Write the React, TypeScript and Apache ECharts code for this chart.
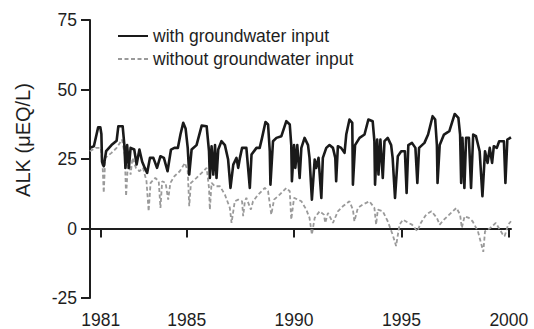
import React, { useEffect, useRef } from "react";
import * as echarts from "echarts";

// decimal years and ALK values (µEQ/L)
const withYears = [
  1980.49, 1980.68, 1980.88, 1980.98, 1981.03, 1981.06, 1981.14, 1981.25, 1981.5, 1981.74,
  1981.82, 1982.02, 1982.1, 1982.15, 1982.23, 1982.31, 1982.39, 1982.56, 1982.67, 1982.8,
  1982.93, 1983.05, 1983.16, 1983.29, 1983.45, 1983.62, 1983.78, 1983.94, 1984.11, 1984.27,
  1984.43, 1984.59, 1984.71, 1984.84, 1984.95, 1985.05, 1985.12, 1985.23, 1985.46, 1985.7,
  1985.93, 1986.04, 1986.08, 1986.16, 1986.24, 1986.32, 1986.39, 1986.47, 1986.62, 1986.78,
  1986.93, 1987.04, 1987.17, 1987.32, 1987.4, 1987.48, 1987.58, 1987.78, 1987.94, 1988.02,
  1988.25, 1988.4, 1988.51, 1988.67, 1988.79, 1988.87, 1988.9, 1989.02, 1989.18, 1989.41,
  1989.64, 1989.8, 1989.87, 1989.9, 1990.0, 1990.06, 1990.15, 1990.26, 1990.34, 1990.49,
  1990.65, 1990.72, 1990.83, 1990.96, 1991.03, 1991.14, 1991.27, 1991.34, 1991.5, 1991.65,
  1991.81, 1991.92, 1991.96, 1992.04, 1992.19, 1992.35, 1992.43, 1992.58, 1992.71, 1992.74,
  1992.84, 1993.05, 1993.28, 1993.46, 1993.66, 1993.74, 1993.77, 1993.87, 1993.93, 1994.02,
  1994.13, 1994.21, 1994.36, 1994.52, 1994.59, 1994.7, 1994.83, 1994.99, 1995.16, 1995.24,
  1995.32, 1995.49, 1995.65, 1995.74, 1995.82, 1996.07, 1996.24, 1996.45, 1996.57, 1996.65,
  1996.68, 1996.78, 1996.98, 1997.23, 1997.48, 1997.65, 1997.73, 1997.78, 1997.84, 1997.93,
  1998.01, 1998.14, 1998.24, 1998.34, 1998.47, 1998.64, 1998.77, 1998.89, 1999.01, 1999.11,
  1999.22, 1999.3, 1999.44, 1999.55, 1999.77, 1999.84, 1999.93, 2000.1,
];
const withValues = [
  29, 29.6, 36.4, 36.4, 34, 24, 22.4, 27.8, 30, 31.6,
  36.8, 36.8, 30, 21.8, 30, 21.8, 29, 28.4, 23, 28.4,
  24, 21.8, 20, 25.4, 25.4, 21.8, 26, 25.4, 20.6, 28.4,
  29, 29, 33.8, 38, 36, 29, 19.4, 28.4, 30, 37,
  36.8, 27.8, 18.2, 29.6, 19.4, 30, 18.2, 28.4, 31.4, 30,
  24.8, 14.6, 23, 25.4, 21.8, 25.4, 29, 29, 14.6, 26.6,
  29, 29, 32.6, 38.3, 37.4, 27.8, 15.8, 31.4, 32.6, 33.2,
  38.6, 37.4, 30, 17, 30, 21.8, 30, 18.2, 29, 32.6,
  30, 25.4, 10.4, 24.8, 21.8, 25.4, 11, 25.4, 29, 30,
  29, 25.4, 17, 29.6, 29, 27.2, 33.8, 39.2, 38, 15.8,
  30, 32.6, 33.8, 39.2, 38.6, 31.4, 15.8, 32, 19.4, 32,
  18.2, 31.4, 32.6, 30, 25.4, 11, 26, 27.8, 27.8, 12.8,
  30, 30.8, 29, 16.4, 29, 30.8, 33.8, 40.4, 39.2, 30,
  16.4, 30, 33.8, 35, 41.2, 39.8, 33.8, 16.4, 32.6, 14.6,
  32.6, 32.6, 14.6, 33.8, 33.2, 27.8, 11.6, 27.8, 23.6, 29,
  23.6, 29.6, 29, 31.4, 31.4, 16.4, 32, 32.8,
];

const withoutYears = [
  1980.49, 1980.77, 1981.01, 1981.09, 1981.14, 1981.21, 1981.5, 1981.74, 1981.99, 1982.12,
  1982.18, 1982.28, 1982.39, 1982.48, 1982.64, 1982.8, 1982.97, 1983.13, 1983.23, 1983.32,
  1983.54, 1983.7, 1983.78, 1983.86, 1984.02, 1984.14, 1984.24, 1984.43, 1984.68, 1984.92,
  1985.05, 1985.12, 1985.2, 1985.46, 1985.7, 1985.93, 1986.04, 1986.08, 1986.16, 1986.32,
  1986.55, 1986.78, 1987.01, 1987.09, 1987.24, 1987.4, 1987.58, 1987.63, 1987.71, 1987.78,
  1987.99, 1988.09, 1988.33, 1988.64, 1988.79, 1988.94, 1989.07, 1989.33, 1989.64, 1989.8,
  1989.87, 1990.0, 1990.18, 1990.34, 1990.57, 1990.72, 1990.83, 1990.96, 1991.19, 1991.39,
  1991.45, 1991.58, 1991.81, 1992.04, 1992.27, 1992.58, 1992.74, 1992.81, 1992.97, 1993.2,
  1993.51, 1993.74, 1993.82, 1993.9, 1994.13, 1994.36, 1994.59, 1994.75, 1994.91, 1995.07,
  1995.32, 1995.49, 1995.74, 1995.9, 1996.15, 1996.4, 1996.65, 1996.78, 1996.98, 1997.31,
  1997.56, 1997.73, 1997.81, 1997.94, 1998.14, 1998.31, 1998.56, 1998.72, 1998.81, 1998.89,
  1999.14, 1999.39, 1999.72, 1999.8, 1999.97, 2000.1,
];
const withoutValues = [
  27.8, 29, 29, 21.8, 12.8, 25.4, 27.2, 29, 32, 26.6,
  11.6, 25.4, 19.4, 25.4, 21.8, 20.6, 21.8, 17, 6.2, 16.4,
  18.2, 17, 7.4, 17, 16.4, 10.4, 16.4, 18.8, 20.6, 23.6,
  20.6, 8, 16.4, 18.2, 20, 21.8, 14.6, 6.8, 16.4, 15.2,
  15.2, 12.2, 7.4, 2, 9.8, 10.4, 9.8, 4.4, 9.8, 11,
  6.8, 9.8, 12.2, 14.6, 13.4, 5, 10.4, 12.2, 14.6, 13.4,
  3.2, 11, 10.4, 9.8, 6.8, 3.8, -2.2, 3.8, 6.2, 5,
  2, 5.6, 2, 6.2, 8, 9.8, 6.8, 2.6, 7.4, 8.6,
  9.8, 7.4, 1.4, 6.8, 6.2, 2.6, -2.2, -6.3, 1.4, 3.2,
  2, 1.4, -1, 2, 5, 6.2, 3.8, 1.4, 3.2, 5.6,
  7.4, 5, 0.2, 4.4, 3.8, 2.6, -1, -5.7, -8.4, -1,
  0.2, 2, -2.2, -2.8, 1.4, 2.6,
];

const xTickYears = [1981, 1985, 1990, 1995, 2000];
const seriesNames = ["with groundwater input", "without groundwater input"];
const yAxisTitle = "ALK (\u03bcEQ/L)";

const FONT = "'Liberation Sans', Arial, Helvetica, sans-serif";
const INK = "#1e1e1e";

export default function App() {
  const ref = useRef<HTMLDivElement>(null);
  useEffect(() => {
    if (!ref.current) return;
    const chart = echarts.init(ref.current, undefined, { renderer: "svg" });
    const pair = (xs: number[], ys: number[]) => xs.map((x, i) => [x, ys[i]]);
    chart.setOption({
      animation: false,
      backgroundColor: "#ffffff",
      grid: { left: 90, right: 23, top: 20, bottom: 31, containLabel: false },
      legend: {
        orient: "vertical",
        left: 112,
        top: 22,
        itemWidth: 30,
        itemHeight: 10,
        itemGap: 5,
        itemStyle: { opacity: 0 },
        textStyle: { fontFamily: FONT, fontSize: 17.5, color: INK },
        data: seriesNames.map((n) => ({ name: n })),
      },
      graphic: [
        {
          type: "text",
          x: 23,
          y: 140,
          rotation: Math.PI / 2,
          style: {
            text: yAxisTitle,
            fontFamily: FONT,
            fontSize: 20,
            fill: INK,
            align: "center",
            verticalAlign: "middle",
          },
        },
      ],
      xAxis: {
        type: "value",
        min: 1980.5,
        max: 2000.1,
        axisLine: { show: true, lineStyle: { color: INK, width: 2 } },
        axisTick: {
          show: true,
          length: 9,
          lineStyle: { color: INK, width: 2 },
          customValues: xTickYears,
        },
        axisLabel: {
          customValues: xTickYears,
          margin: 13,
          fontFamily: FONT,
          fontSize: 17.5,
          color: INK,
          formatter: (v: number) => String(Math.round(v)),
        },
        splitLine: { show: false },
      },
      yAxis: {
        type: "value",
        min: -25,
        max: 75,
        interval: 25,
        axisLine: { show: true, onZero: false, lineStyle: { color: INK, width: 2 } },
        axisTick: { show: true, length: 9, lineStyle: { color: INK, width: 2 } },
        axisLabel: { margin: 13, fontFamily: FONT, fontSize: 17.5, color: INK },
        splitLine: { show: false },
      },
      series: [
        {
          name: seriesNames[0],
          type: "line",
          data: pair(withYears, withValues),
          symbol: "none",
          z: 3,
          lineStyle: { color: "#1a1a1a", width: 2.6, join: "round" },
          itemStyle: { color: "#1a1a1a" },
        },
        {
          name: seriesNames[1],
          type: "line",
          data: pair(withoutYears, withoutValues),
          symbol: "none",
          z: 2,
          lineStyle: { color: "#9a9a9a", width: 1.8, type: [4, 2.5] },
          itemStyle: { color: "#9a9a9a" },
        },
      ],
    });
    return () => chart.dispose();
  }, []);
  return (
    <div
      ref={ref}
      style={{ position: "fixed", left: 0, top: 0, width: 534, height: 329, background: "#fff" }}
    />
  );
}
